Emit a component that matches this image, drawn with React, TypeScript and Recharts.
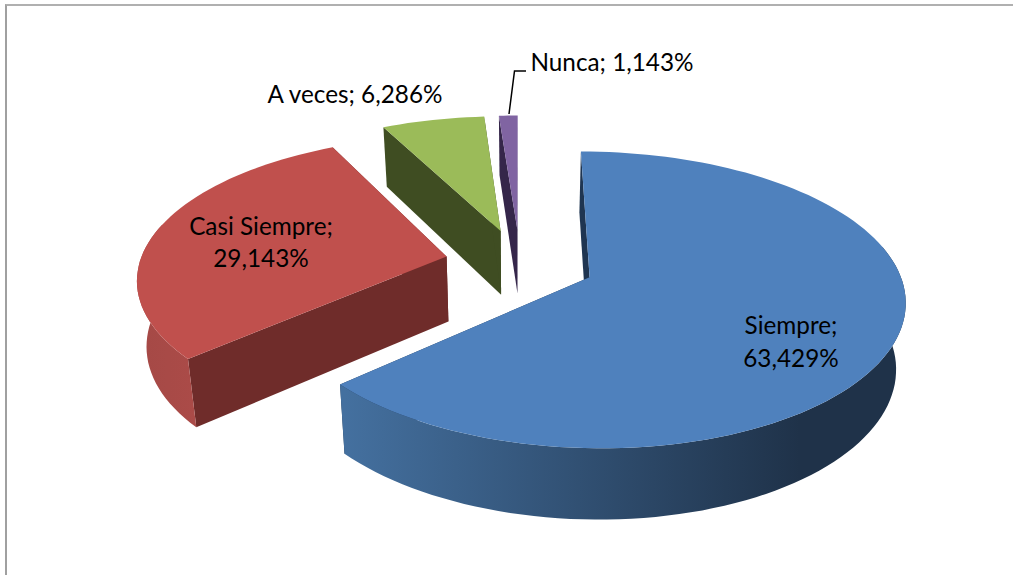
import { PieChart, Pie } from "recharts";

const categories = ["Siempre", "Casi Siempre", "A veces", "Nunca"];
const shares = [63.429, 29.143, 6.286, 1.143];

const TOP_COLORS = ["#4f81bd", "#c0504d", "#9bbb59", "#8064a2"];
const CUT_COLORS = ["#1f3551", "#6f2c2a", "#3f4d22", "#35264a"];
const WALL_LIGHT = ["#44709f", "#a54946", "#86a34c", "#6f578d"];
const WALL_DARK = ["#1f3249", "#ae4c49", "#6d853e", "#4f3e66"];

const WIDTH = 1013;
const HEIGHT = 575;

// fake 3d: project the flat pie onto a tilted plane
const CX = 520;
const CY = 263;
const RADIUS = 307;
const SQUASH = 140.6 / 307;
const PERSP_X = 0.14;
const PERSP_Y = 0.15;
const PERSP_DEPTH = 0.08;
const EXPLODE = 0.245;
const DEPTH = 65;
const BOTTOM_SHRINK = 0.975;

const chartData = categories.map((name, i) => ({ name, value: shares[i] }));

type Pt = { x: number; y: number };

function project(u: number, v: number, cx: number, cy: number, r: number): Pt {
  return {
    x: cx + (r * u) / (1 - PERSP_X * v),
    y: cy + (r * SQUASH * v) / (1 - PERSP_Y * v),
  };
}

function drop(p: Pt, v: number, cx: number): Pt {
  return {
    x: cx + (p.x - cx) * BOTTOM_SHRINK,
    y: p.y + DEPTH / (1 - PERSP_DEPTH * v),
  };
}

function toPath(points: Pt[]) {
  return points.map((p, i) => `${i ? "L" : "M"}${p.x.toFixed(1)} ${p.y.toFixed(1)}`).join(" ") + " Z";
}

function Slice3D(props: any) {
  const { cx, cy, outerRadius: r, startAngle, endAngle, midAngle, index } = props;
  const rad = Math.PI / 180;
  // recharts angles are counter-clockwise from 3 o'clock, y up
  const offU = EXPLODE * Math.cos(midAngle * rad);
  const offV = -EXPLODE * Math.sin(midAngle * rad);
  const steps = Math.max(4, Math.ceil(Math.abs(endAngle - startAngle) / 2));
  const rim: { p: Pt; v: number; facing: boolean }[] = [];
  for (let i = 0; i <= steps; i++) {
    const a = (startAngle + ((endAngle - startAngle) * i) / steps) * rad;
    const u = offU + Math.cos(a);
    const v = offV - Math.sin(a);
    rim.push({ p: project(u, v, cx, cy, r), v, facing: -Math.sin(a) > -0.25 });
  }
  const apex = project(offU, offV, cx, cy, r);
  const apexLow = drop(apex, offV, cx);
  const first = rim[0];
  const last = rim[rim.length - 1];
  const wall = rim.filter((q) => q.facing);
  const wallId = `wall-${index}`;

  return (
    <g>
      <defs>
        <linearGradient id={wallId} gradientUnits="userSpaceOnUse" x1={index === 0 ? 345 : 140} x2={index === 0 ? 800 : 225} y1="0" y2="0">
          <stop offset="0" stopColor={WALL_LIGHT[index]} />
          <stop offset="1" stopColor={WALL_DARK[index]} />
        </linearGradient>
      </defs>
      <path d={toPath([apex, first.p, drop(first.p, first.v, cx), apexLow])} fill={CUT_COLORS[index]} />
      <path d={toPath([apex, last.p, drop(last.p, last.v, cx), apexLow])} fill={CUT_COLORS[index]} />
      {wall.length > 1 && (
        <path
          d={toPath([...wall.map((q) => q.p), ...wall.slice().reverse().map((q) => drop(q.p, q.v, cx))])}
          fill={`url(#${wallId})`}
        />
      )}
      <path d={toPath([apex, ...rim.map((q) => q.p)])} fill={TOP_COLORS[index]} />
    </g>
  );
}

const LABEL_POS = [
  { x: 791, lines: [334, 367] },
  { x: 261, lines: [235, 267] },
  { x: 355, lines: [103] },
  { x: 612, lines: [71] },
];

function SliceLabel(props: any) {
  const { index, name, value } = props;
  const pos = LABEL_POS[index];
  const pct = `${value.toFixed(3).replace(".", ",")}%`;
  const lines = pos.lines.length > 1 ? [`${name};`, pct] : [`${name}; ${pct}`];
  return (
    <g>
      {index === 3 && <path d="M509 114 L514.5 71 L526 71" fill="none" stroke="#000" strokeWidth={1.5} />}
      {lines.map((t, i) => (
        <text
          key={t}
          x={pos.x}
          y={pos.lines[i]}
          textAnchor="middle"
          fontFamily="Lato, 'Open Sans', sans-serif"
          fontSize={24.3}
          fill="#000"
        >
          {t}
        </text>
      ))}
    </g>
  );
}

export default function App() {
  return (
    <div style={{ position: "absolute", left: 0, top: 0, width: WIDTH, height: HEIGHT, overflow: "hidden", background: "#fff" }}>
      <div style={{ position: "absolute", left: 5, top: 4, width: 1100, height: 700, borderLeft: "2px solid #a0a0a0", borderTop: "2px solid #b0b0b0" }} />
      <div style={{ position: "absolute", left: 0, top: 0 }}>
        <PieChart width={WIDTH} height={HEIGHT} margin={{ top: 0, right: 0, bottom: 0, left: 0 }}>
          <Pie
            data={chartData}
            dataKey="value"
            nameKey="name"
            cx={CX}
            cy={CY}
            outerRadius={RADIUS}
            startAngle={90}
            endAngle={-270}
            stroke="none"
            shape={Slice3D}
            label={SliceLabel}
            labelLine={false}
            isAnimationActive={false}
          />
        </PieChart>
      </div>
    </div>
  );
}
